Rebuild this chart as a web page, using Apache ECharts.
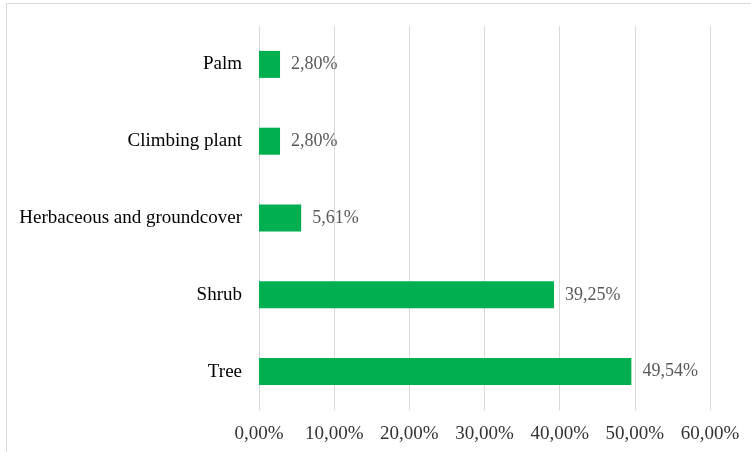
<!DOCTYPE html>
<html><head><meta charset="utf-8">
<script src="https://cdn.jsdelivr.net/npm/echarts@6/dist/echarts.min.js"></script>
<style>html,body{margin:0;padding:0;background:#fff}#c{width:751px;height:452px}</style>
</head><body><div id="c"></div>
<script>
const categories = ["Tree", "Shrub", "Herbaceous and groundcover", "Climbing plant", "Palm"];
const values = [49.54, 39.25, 5.61, 2.80, 2.80];
const tickMin = 0, tickMax = 60, tickStep = 10;

const fmt = v => v.toFixed(2).replace('.', ',') + '%';
const font = '"Liberation Serif", "Times New Roman", serif';
const chart = echarts.init(document.getElementById('c'), null, {renderer: 'canvas'});
chart.setOption({
  animation: false,
  backgroundColor: '#fff',
  graphic: [{type: 'rect', shape: {x: 6.5, y: 3.5, width: 900, height: 600}, style: {fill: 'none', stroke: '#d9d9d9', lineWidth: 1}, silent: true}],
  grid: {left: 259, right: 41, top: 26, bottom: 42, containLabel: false},
  xAxis: {
    type: 'value', min: tickMin, max: tickMax, interval: tickStep,
    axisLine: {show: false}, axisTick: {show: false},
    splitLine: {lineStyle: {color: '#d9d9d9', width: 1}},
    axisLabel: {formatter: v => fmt(v), color: '#333', fontFamily: font, fontSize: 19, margin: 15}
  },
  yAxis: {
    type: 'category', data: categories,
    axisLine: {show: false}, axisTick: {show: false},
    axisLabel: {color: '#000', fontFamily: font, fontSize: 19, margin: 17}
  },
  series: [{
    type: 'bar', data: values, barWidth: 27,
    itemStyle: {color: '#00B050'},
    label: {show: true, position: 'right', distance: 11, formatter: p => fmt(p.value), color: '#595959', fontFamily: font, fontSize: 18}
  }]
});
</script></body></html>
